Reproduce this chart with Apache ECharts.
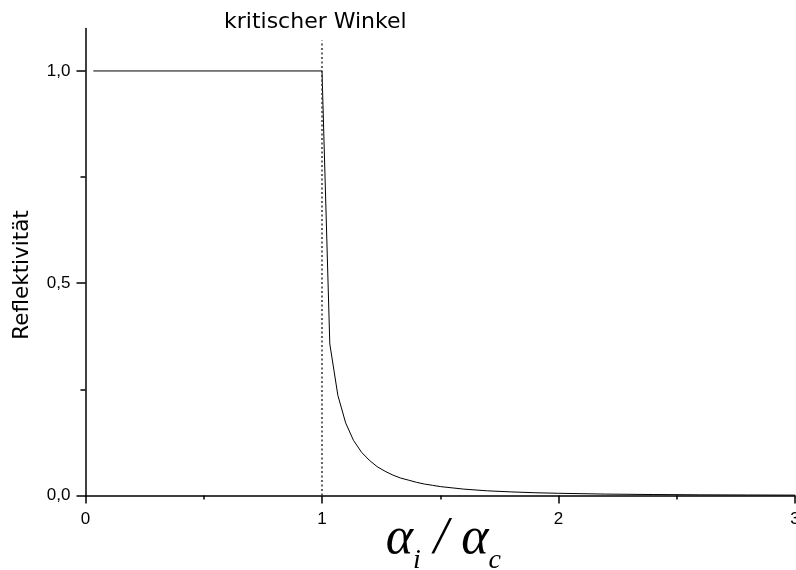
<!DOCTYPE html>
<html>
<head>
<meta charset="utf-8">
<script src="https://cdn.jsdelivr.net/npm/echarts@6/dist/echarts.min.js"></script>
<style>
  html, body { margin: 0; padding: 0; background: #fff; }
  #chart { width: 796px; height: 570px; }
</style>
</head>
<body>
<div id="chart"></div>
<script>
// Reflectivity vs. normalised incidence angle alpha_i / alpha_c
const angleRatio = [
  0.033, 1.000, 1.033, 1.067, 1.100, 1.133, 1.167, 1.200, 1.233, 1.267,
  1.300, 1.333, 1.367, 1.400, 1.433, 1.467, 1.500, 1.600, 1.700, 1.800,
  1.900, 2.000, 2.200, 2.400, 2.600, 2.800, 3.000
];
const reflectivity = [
  1.000, 1.000, 0.357, 0.236, 0.171, 0.130, 0.102, 0.083, 0.068, 0.057,
  0.048, 0.041, 0.036, 0.031, 0.027, 0.024, 0.021, 0.015, 0.011, 0.0085,
  0.0065, 0.0052, 0.0033, 0.0023, 0.0016, 0.0012, 0.0009
];
const criticalAngle = 1;
const criticalLabel = 'kritischer Winkel';
const yTickValues = [0, 0.5, 1.0];
const yMinorTickValues = [0.25, 0.75];

const curve = angleRatio.map((x, i) => [x, reflectivity[i]]);

const chart = echarts.init(document.getElementById('chart'), null, { renderer: 'canvas' });

const tickFont = { fontFamily: 'Liberation Sans', fontSize: 17, color: '#000' };

chart.setOption({
  animation: false,
  backgroundColor: '#fff',
  title: {
    text: criticalLabel,
    left: 219,
    top: 6,
    textStyle: { fontFamily: 'DejaVu Sans', fontSize: 22, fontWeight: 'normal', color: '#000' }
  },
  grid: { left: 85.5, right: 1, top: 28.5, bottom: 74.5, outerBoundsMode: 'none', containLabel: false },
  xAxis: {
    type: 'value',
    min: 0, max: 3, interval: 1,
    name: '{a|α}{s|i}{a| / α}{s|c}',
    nameLocation: 'middle',
    nameGap: 18,
    nameMoveOverlap: false,
    nameTextStyle: {
      padding: [0, 0, 0, 6],
      rich: {
        a: { fontFamily: 'Liberation Serif', fontStyle: 'italic', fontSize: 52, lineHeight: 54, verticalAlign: 'top', color: '#000' },
        s: { fontFamily: 'Liberation Serif', fontStyle: 'italic', fontSize: 28, lineHeight: 28, verticalAlign: 'top', padding: [33, 0, 0, 0], color: '#000' }
      }
    },
    axisLine: { onZero: false, lineStyle: { color: '#000', width: 1.5 } },
    axisTick: { inside: false, length: 8, lineStyle: { color: '#000', width: 1.5 } },
    minorTick: { show: true, splitNumber: 2, length: 4, lineStyle: { color: '#000', width: 1.5 } },
    axisLabel: Object.assign({ margin: 15, showMaxLabel: true, hideOverlap: false }, tickFont),
    splitLine: { show: false },
    minorSplitLine: { show: false }
  },
  yAxis: [
    {
      type: 'value',
      min: 0, max: 1.1,
      name: 'Reflektivität',
      nameLocation: 'middle',
      nameRotate: 90,
      nameGap: 52,
      nameMoveOverlap: false,
      nameTextStyle: { fontFamily: 'DejaVu Sans', fontSize: 21.5, color: '#000', padding: [0, 26, 0, 0] },
      axisLine: { onZero: false, lineStyle: { color: '#000', width: 1.5 } },
      axisTick: { inside: false, length: 9, customValues: yTickValues, lineStyle: { color: '#000', width: 1.5 } },
      axisLabel: Object.assign({
        margin: 15,
        customValues: yTickValues,
        formatter: v => v.toFixed(1).replace('.', ',')
      }, tickFont),
      splitLine: { show: false }
    },
    {
      type: 'value',
      min: 0, max: 1.1,
      position: 'left',
      axisLine: { show: false },
      axisTick: { inside: false, length: 5, customValues: yMinorTickValues, lineStyle: { color: '#000', width: 1.5 } },
      axisLabel: { show: false },
      splitLine: { show: false }
    }
  ],
  series: [
    {
      type: 'line',
      data: curve,
      yAxisIndex: 0,
      showSymbol: false,
      symbol: 'none',
      lineStyle: { color: '#000', width: 1 },
      markLine: {
        silent: true,
        symbol: 'none',
        label: { show: false },
        lineStyle: { color: '#333', type: [2, 2.5], width: 1.5 },
        data: [[{ coord: [criticalAngle, 0] }, { coord: [criticalAngle, 1.072] }]]
      }
    }
  ]
});
</script>
</body>
</html>
